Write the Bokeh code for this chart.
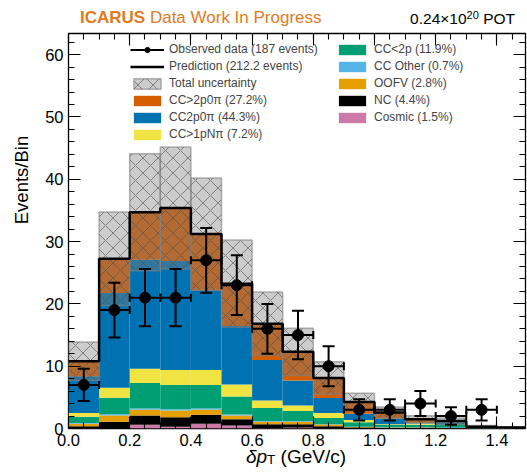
import numpy as np
from bokeh.plotting import figure
from bokeh.layouts import column
from bokeh.models import (Range1d, LinearAxis, SingleIntervalTicker, NumeralTickFormatter,
                          Legend, LegendItem, Div)
from bokeh.embed import file_html
from bokeh.resources import INLINE

# ---- histogram binning (GeV/c) ----
bin_lo = [0.0, 0.1, 0.2, 0.3, 0.4, 0.5, 0.6, 0.7, 0.8, 0.9, 1.0, 1.1, 1.2, 1.3, 1.4]
bin_hi = [0.1, 0.2, 0.3, 0.4, 0.5, 0.6, 0.7, 0.8, 0.9, 1.0, 1.1, 1.2, 1.3, 1.4, 1.5]

# ---- predicted events per bin, by category (stack order bottom -> top) ----
cosmic     = [0.05, 0.0, 0.6, 0.3, 0.75, 0.5, 0.1, 0.15, 0.05, 0.0, 0.0, 0.0, 0.0, 0.0, 0.0]
nc         = [0.3, 1.1, 1.5, 1.5, 1.45, 1.0, 0.6, 0.55, 0.3, 0.15, 0.1, 0.1, 0.05, 0.05, 0.1]
oofv       = [0.4, 1.0, 0.9, 1.1, 0.8, 0.6, 0.4, 0.4, 0.3, 0.1, 0.05, 0.05, 0.05, 0.0, 0.0]
cc_other   = [0.15, 0.2, 0.2, 0.2, 0.2, 0.15, 0.1, 0.1, 0.05, 0.05, 0.1, 0.05, 0.05, 0.0, 0.0]
cc_lt2p    = [1.0, 2.65, 4.1, 3.9, 3.8, 2.9, 2.1, 1.6, 1.0, 0.7, 0.3, 0.4, 0.4, 0.05, 0.0]
cc_1pnpi   = [0.6, 1.6, 2.3, 2.4, 2.4, 1.9, 1.2, 0.9, 0.8, 0.35, 0.15, 0.2, 0.05, 0.0, 0.0]
cc_2p0pi   = [5.9, 15.2, 17.5, 17.5, 12.8, 9.4, 6.5, 4.0, 2.4, 1.0, 0.9, 0.1, 0.4, 0.15, 0.05]
cc_gt2p0pi = [2.4, 5.5, 7.6, 8.5, 9.0, 6.8, 5.8, 4.6, 3.2, 1.9, 0.95, 0.6, 0.2, 0.05, 0.0]

# total (stat + syst) uncertainty on the prediction
total_unc = [3.1, 7.5, 9.4, 9.8, 9.0, 7.0, 5.1, 3.8, 2.6, 1.4, 0.9, 0.55, 0.5, 0.2, 0.15]

# ---- observed data ----
data_x   = [0.05, 0.15, 0.25, 0.35, 0.45, 0.55, 0.65, 0.75, 0.85, 0.95, 1.05, 1.15, 1.25, 1.35]
data_y   = [7, 19, 21, 21, 27, 23, 16, 15, 10, 3, 3, 4, 2, 3]
data_err = [2.6, 4.4, 4.6, 4.6, 5.2, 4.8, 4.0, 3.9, 3.2, 1.7, 1.7, 2.0, 1.4, 1.7]

stack_vals = [cosmic, nc, oofv, cc_other, cc_lt2p, cc_1pnpi, cc_2p0pi, cc_gt2p0pi]
stack_cols = ["#CC79A7", "#000000", "#E69F00", "#56B4E9", "#009E73", "#F0E442", "#0072B2", "#D55E00"]
stack_labels = ["Cosmic (1.5%)", "NC (4.4%)", "OOFV (2.8%)", "CC Other (0.7%)", "CC<2p (11.9%)",
                "CC>1pNπ (7.2%)", "CC2p0π (44.3%)", "CC>2p0π (27.2%)"]

FONT = "Liberation Sans"

p = figure(width=527, height=473, x_range=Range1d(0, 1.4935), y_range=Range1d(0, 63.4),
           output_backend="svg", toolbar_location=None,
           min_border_left=68, min_border_right=2, min_border_top=33, min_border_bottom=45)
p.xgrid.visible = False
p.ygrid.visible = False
p.outline_line_color = "black"
p.outline_line_width = 1.3
p.background_fill_color = "white"
p.border_fill_alpha = 0

# ---- stacked prediction ----
bottom = np.zeros(len(bin_lo))
stack_renderers = []
for vals, col in zip(stack_vals, stack_cols):
    top = bottom + np.array(vals)
    r = p.quad(left=bin_lo, right=bin_hi, bottom=bottom.tolist(), top=top.tolist(),
               fill_color=col, line_color=None)
    stack_renderers.append(r)
    bottom = top
total = bottom

# ---- uncertainty band ----
unc = np.array(total_unc)
band = p.quad(left=bin_lo, right=bin_hi, bottom=(total - unc).tolist(), top=(total + unc).tolist(),
              fill_color="#808080", fill_alpha=0.4, line_color="#808080", line_alpha=0.6, line_width=1.5,
              hatch_pattern="diagonal_cross", hatch_color="#4d4d4d", hatch_alpha=0.6,
              hatch_scale=15, hatch_weight=1)

# ---- prediction outline (step) ----
step_x, step_y = [], []
for lo, hi, t in zip(bin_lo, bin_hi, total):
    step_x += [lo, hi]
    step_y += [t, t]
pred = p.line(step_x, step_y, line_color="black", line_width=2.5)

# ---- observed data with error bars ----
dx = np.array(data_x)
dy = np.array(data_y)
de = np.array(data_err)
half_w = 0.05
p.segment(x0=dx, y0=dy - de, x1=dx, y1=dy + de, line_color="black", line_width=2)
hseg = p.segment(x0=dx - half_w, y0=dy, x1=dx + half_w, y1=dy, line_color="black", line_width=2)
p.scatter(np.concatenate([dx, dx]), np.concatenate([dy - de, dy + de]), marker="dash",
          size=12, line_color="black", line_width=2)
p.scatter(np.concatenate([dx - half_w, dx + half_w]), np.concatenate([dy, dy]), marker="dash",
          angle=np.pi / 2, size=8, line_color="black", line_width=2)
pts = p.scatter(dx, dy, marker="circle", size=11, fill_color="black", line_color="black")

# ---- axes: ticks inside on all four sides ----
def style_axis(ax, ticker, labels=True):
    ax.ticker = ticker
    ax.axis_line_color = None
    ax.major_tick_in = 12
    ax.major_tick_out = 0
    ax.minor_tick_in = 6
    ax.minor_tick_out = 0
    ax.major_tick_line_color = "black"
    ax.minor_tick_line_color = "black"
    ax.major_tick_line_width = 1.1
    ax.minor_tick_line_width = 1.1
    if labels:
        ax.major_label_text_font = FONT
        ax.major_label_text_font_size = "16.5px"
        ax.major_label_text_color = "black"
        ax.major_label_standoff = 5
    else:
        ax.major_label_text_font_size = "1px"
        ax.major_label_text_alpha = 0
        ax.major_label_text_color = None
        ax.major_label_standoff = 0

style_axis(p.xaxis[0], SingleIntervalTicker(interval=0.2, num_minor_ticks=4))
p.xaxis[0].formatter = NumeralTickFormatter(format="0.0")
style_axis(p.yaxis[0], SingleIntervalTicker(interval=10, num_minor_ticks=5))

top_ax = LinearAxis()
right_ax = LinearAxis()
style_axis(top_ax, SingleIntervalTicker(interval=0.2, num_minor_ticks=4), labels=False)
style_axis(right_ax, SingleIntervalTicker(interval=10, num_minor_ticks=5), labels=False)
p.add_layout(top_ax, "above")
p.add_layout(right_ax, "right")

# ---- legends (two columns) ----
def make_legend(items, loc):
    lg = Legend(items=items, location=loc, orientation="vertical",
                label_text_font=FONT, label_text_font_size="12px",
                glyph_width=34, glyph_height=13, label_height=13, label_standoff=5,
                spacing=3, padding=0, margin=0,
                border_line_color=None, background_fill_alpha=0)
    p.add_layout(lg)

make_legend([
    LegendItem(label="Observed data (187 events)", renderers=[hseg, pts]),
    LegendItem(label="Prediction (212.2 events)", renderers=[pred]),
    LegendItem(label="Total uncertainty", renderers=[band]),
    LegendItem(label=stack_labels[7], renderers=[stack_renderers[7]]),
    LegendItem(label=stack_labels[6], renderers=[stack_renderers[6]]),
    LegendItem(label=stack_labels[5], renderers=[stack_renderers[5]]),
], (62, 287))
make_legend([
    LegendItem(label=stack_labels[i], renderers=[stack_renderers[i]]) for i in (4, 3, 2, 1, 0)
], (267, 304))

# ---- header, axis titles: HTML text layered over the canvas ----
base = "position:absolute;white-space:nowrap;line-height:1;font-family:'Liberation Sans',Arial,sans-serif;"
overlay_html = (
    '<div style="position:relative;width:527px;height:473px;pointer-events:none;">'
    f'<span style="{base}left:80px;top:8.6px;font-size:17px;color:#E07B22;">'
    '<b>ICARUS</b> Data Work In Progress</span>'
    f'<span style="{base}right:12px;top:11px;font-size:15.5px;color:#000;">'
    '0.24×10<span style="font-size:11px;position:relative;top:-5px;">20</span> POT</span>'
    f'<span style="{base}left:22px;top:180px;font-size:18.5px;color:#000;'
    'transform:translate(-50%,-50%) rotate(-90deg);">Events/Bin</span>'
    f'<span style="{base}left:296px;top:447px;font-size:19px;color:#000;transform:translateX(-50%);">'
    '<i>δp</i><span style="font-size:13.5px;position:relative;top:1px;">T</span> (GeV/c)</span>'
    '</div>'
)
overlay = Div(text=overlay_html, width=527, height=473, margin=(-473, 0, 0, 0))

layout = column(p, overlay, spacing=0)
open("out.html", "w").write(file_html(layout, INLINE))
